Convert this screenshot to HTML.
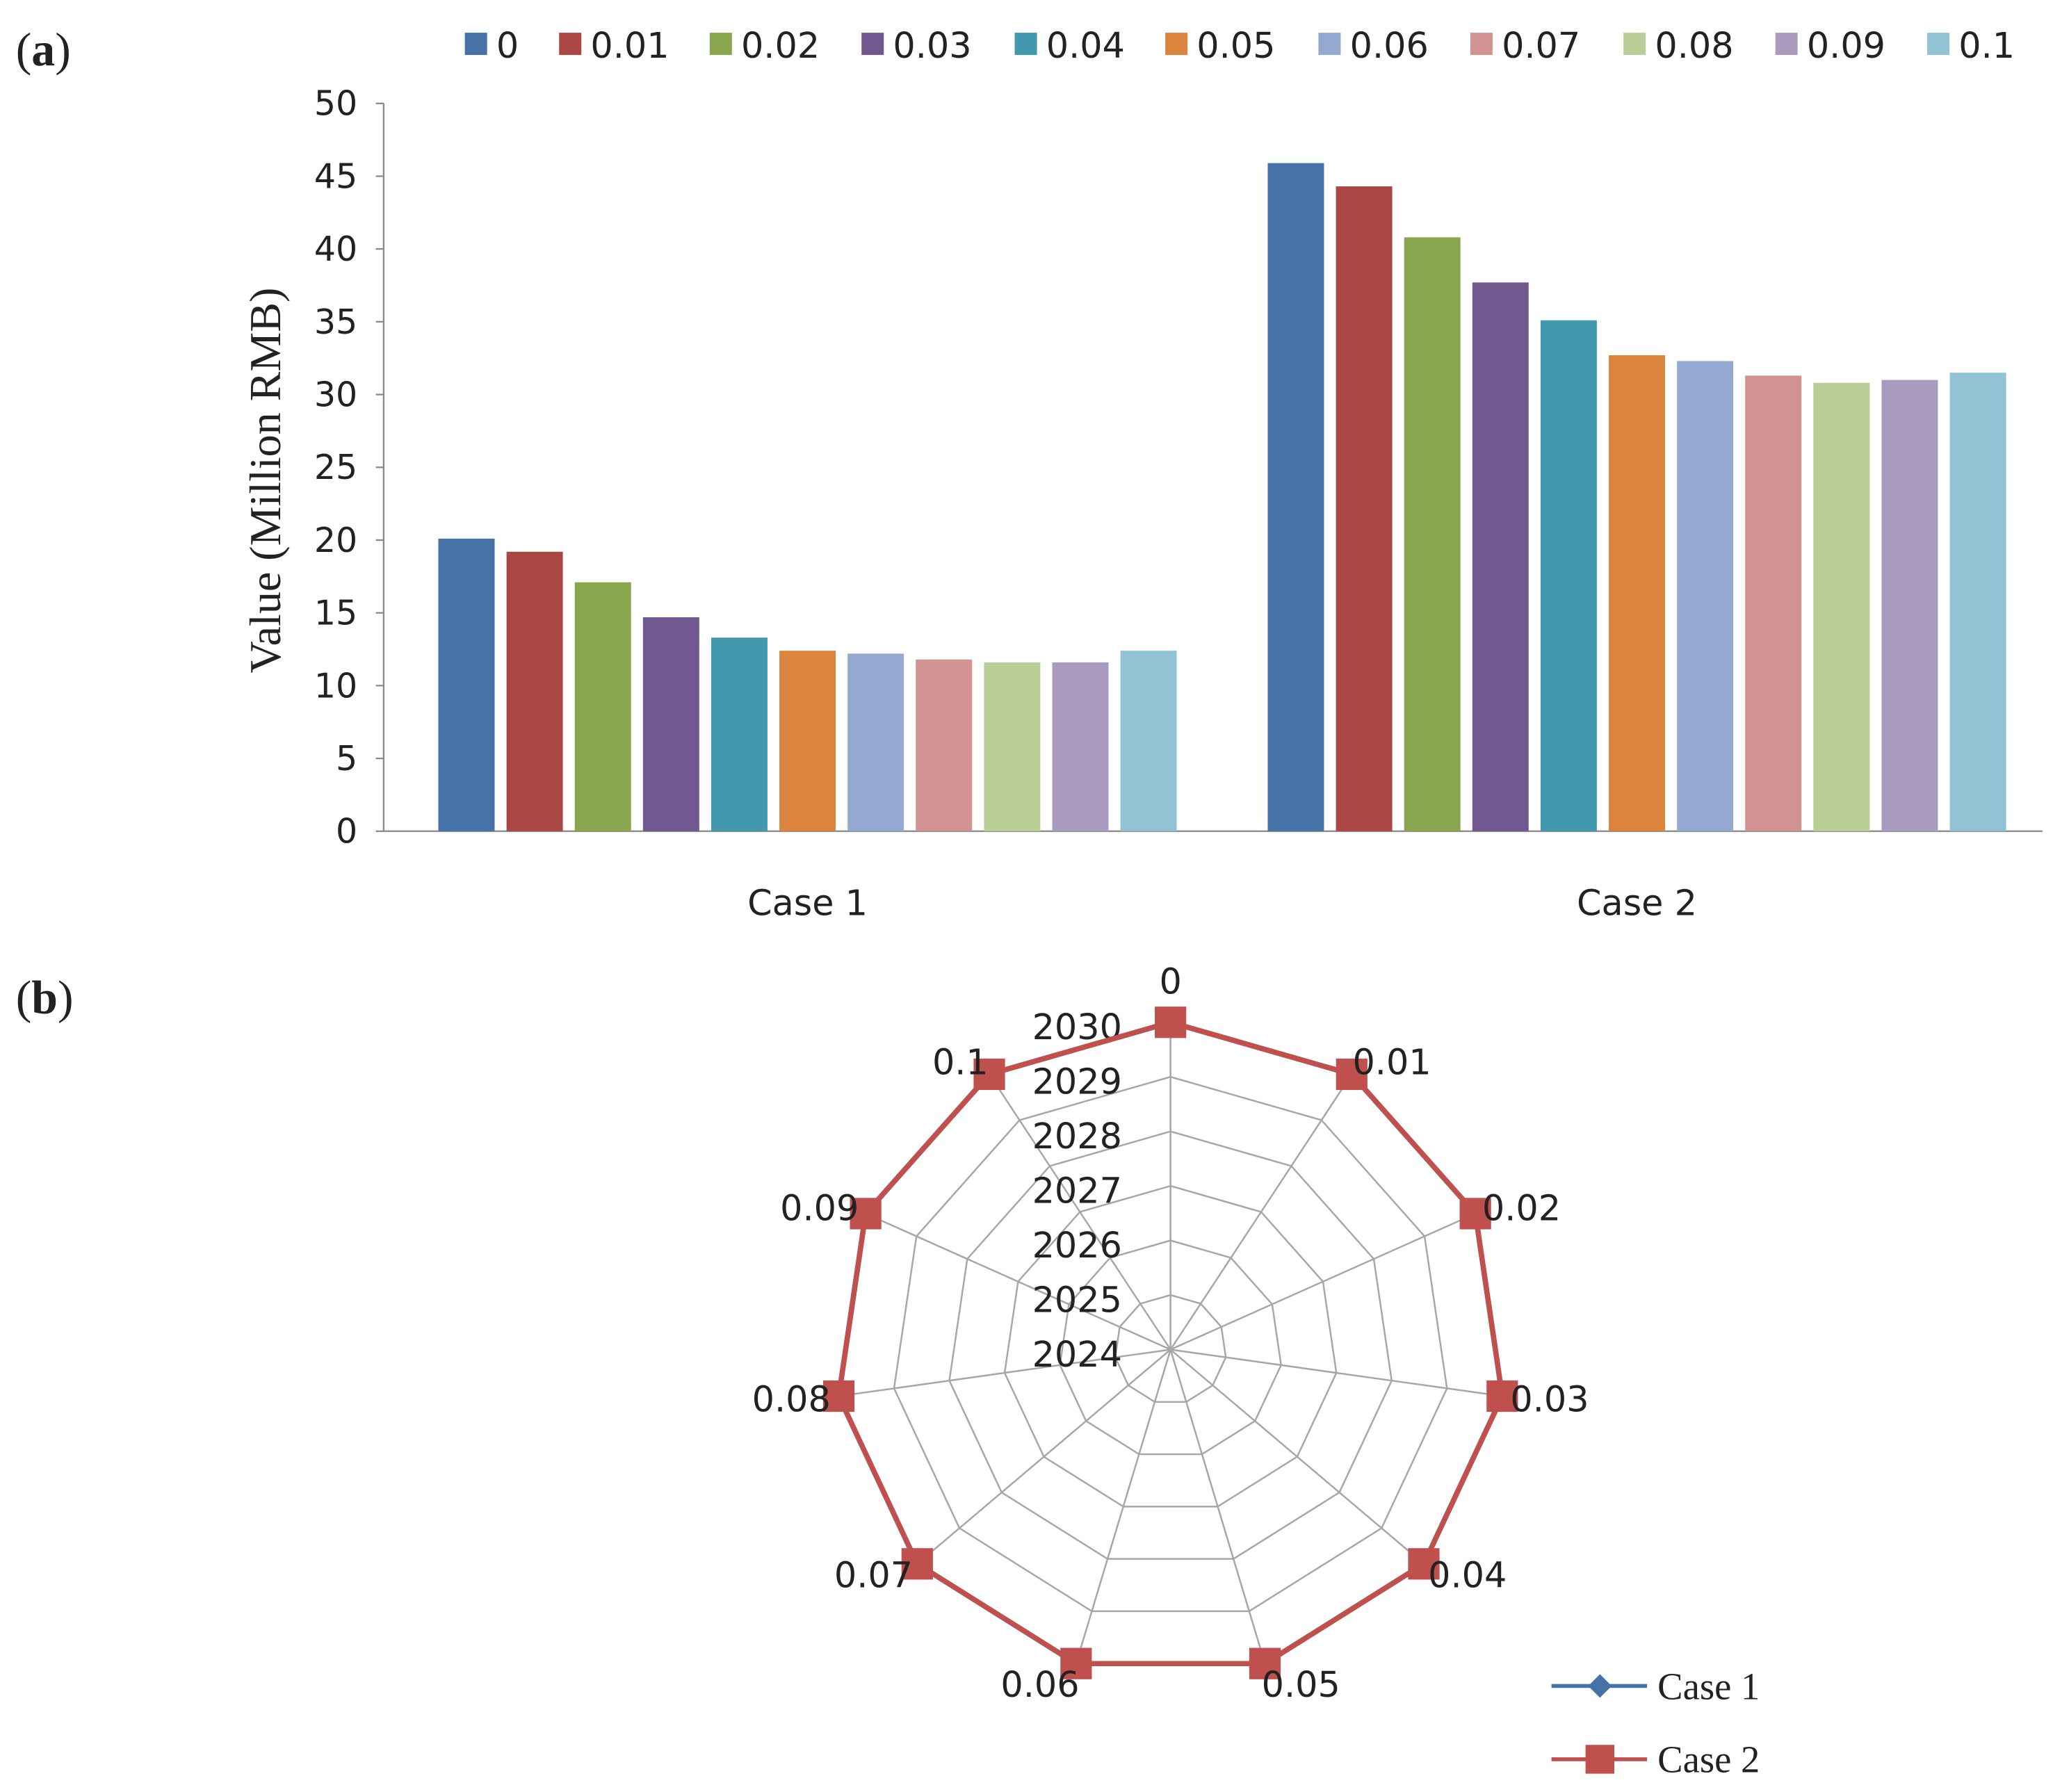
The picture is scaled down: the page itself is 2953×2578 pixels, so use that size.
<!DOCTYPE html>
<html><head><meta charset="utf-8">
<style>
html,body{margin:0;padding:0;background:#fff;}
svg{display:block;}
text{font-family:"DejaVu Sans","Liberation Sans",sans-serif;fill:#222;}
.serif{font-family:"Liberation Serif",serif;}
</style></head>
<body>
<svg id="chart" width="2953" height="2578" viewBox="0 0 1568 1369" xmlns="http://www.w3.org/2000/svg">
<text class="serif" x="12" y="50" font-size="36">(<tspan font-weight="bold">a</tspan>)</text>
<text class="serif" x="12" y="774" font-size="36">(<tspan font-weight="bold">b</tspan>)</text>
<g id="bars"></g>
<g id="radar"></g>
</svg>
<script>
const seriesNames = ["0","0.01","0.02","0.03","0.04","0.05","0.06","0.07","0.08","0.09","0.1"];
const categories = ["Case 1","Case 2"];
const case1Values = [20.1,19.2,17.1,14.7,13.3,12.4,12.2,11.8,11.6,11.6,12.4];
const case2Values = [45.9,44.3,40.8,37.7,35.1,32.7,32.3,31.3,30.8,31.0,31.5];
const yTicks = [0,5,10,15,20,25,30,35,40,45,50];
const radarAxes = ["0","0.01","0.02","0.03","0.04","0.05","0.06","0.07","0.08","0.09","0.1"];
const radarRingLabels = [2024,2025,2026,2027,2028,2029,2030];
const radarCase1 = [2030,2030,2030,2030,2030,2030,2030,2030,2030,2030,2030];
const radarCase2 = [2030,2030,2030,2030,2030,2030,2030,2030,2030,2030,2030];
const colors = ["#4572A7","#AA4643","#89A54E","#71588F","#4198AF","#DB843D","#93A9CF","#D19392","#B9CD96","#A99BBD","#92C3D4"];
const NS="http://www.w3.org/2000/svg";
function mk(parent,tag,attrs,txt){const e=document.createElementNS(NS,tag);for(const k in attrs)e.setAttribute(k,attrs[k]);if(txt!==undefined)e.textContent=txt;parent.appendChild(e);return e;}

// ---- bar chart
const bars=document.getElementById('bars');
const X0=293,X1=1560,Y0=635,Y1=79,YMAX=50;
const y=v=>Y0-(v/YMAX)*(Y0-Y1);
const catW=(X1-X0)/categories.length;
const step=52.1, bw=43;
const groupW=(seriesNames.length-1)*step+bw;
let ax=mk(bars,'line',{x1:X0,y1:Y1,x2:X0,y2:Y0,stroke:'#888','stroke-width':1.2});


ax=mk(bars,'line',{x1:X0,y1:Y0,x2:X1,y2:Y0,stroke:'#888','stroke-width':1.2});


yTicks.forEach(t=>{
  const tk=mk(bars,'line',{x1:X0-6,y1:y(t),x2:X0,y2:y(t),stroke:'#888','stroke-width':1.2});
  
  
  const lb=mk(bars,'text',{x:X0-20,y:y(t)+9,'font-size':26,'text-anchor':'end'},t);
  
  
});
const yt=mk(bars,'text',{x:0,y:0,'font-size':34,'text-anchor':'middle',class:'serif',transform:`translate(214,${(Y0+Y1)/2+10}) rotate(-90)`},'Value (Million RMB)');


const data=[case1Values,case2Values];
categories.forEach((c,ci)=>{
  const cx=X0+catW*(ci+0.5);
  const gx=cx-groupW/2+7;
  data[ci].forEach((v,si)=>{
    const r=mk(bars,'rect',{x:gx+si*step,y:y(v),width:bw,height:Y0-y(v),fill:colors[si]});
    
    
  });
  const cl=mk(bars,'text',{x:cx+7,y:699,'font-size':27,'text-anchor':'middle'},c);
  
  
});
const legendX=[355,427,542,658,775,890,1007,1123,1240,1356,1472];
seriesNames.forEach((n,i)=>{
  const g=mk(bars,'g',{});
  
  
  mk(g,'rect',{x:legendX[i],y:25,width:17,height:17,fill:colors[i]});
  mk(g,'text',{x:legendX[i]+24,y:44,'font-size':27},n);
});

// ---- radar
const rad=document.getElementById('radar');
const CX=894,CY=1031,R=250,XS=1.024;
const rmin=radarRingLabels[0],rmax=radarRingLabels[radarRingLabels.length-1];
const rr=v=>(v-rmin)/(rmax-rmin)*R;
const N=radarAxes.length;
const pt=(i,r)=>{const a=i*2*Math.PI/N;return [CX+XS*r*Math.sin(a),CY-r*Math.cos(a)];};
radarRingLabels.forEach(v=>{
  if(v===rmin)return;
  const pts=radarAxes.map((_,i)=>pt(i,rr(v)).join(',')).join(' ');
  const p=mk(rad,'polygon',{points:pts,fill:'none',stroke:'#a6a6a6','stroke-width':1.3});
  
  
});
radarAxes.forEach((a,i)=>{
  const [ex,ey]=pt(i,R);
  const l=mk(rad,'line',{x1:CX,y1:CY,x2:ex,y2:ey,stroke:'#a6a6a6','stroke-width':1.3});
  
  
});
radarRingLabels.forEach(v=>{
  const t=mk(rad,'text',{x:CX-37,y:CY-rr(v)+13,'font-size':27,'text-anchor':'end'},v);
  
  
});
function series(vals,color,marker,name){
  const g=mk(rad,'g',{});
  
  
  const pts=vals.map((v,i)=>pt(i,rr(v)).join(',')).join(' ');
  mk(g,'polygon',{points:pts,fill:'none',stroke:color,'stroke-width':4});
  vals.forEach((v,i)=>{
    const [px,py]=pt(i,rr(v));
    if(marker==='square') mk(g,'rect',{x:px-12,y:py-12,width:24,height:24,fill:color});
    else mk(g,'polygon',{points:`${px},${py-9} ${px+9},${py} ${px},${py+9} ${px-9},${py}`,fill:color});
  });
}
series(radarCase1,'#4572A7','diamond','radar-series-case-1');
series(radarCase2,'#C0504D','square','radar-series-case-2');
radarAxes.forEach((a,i)=>{
  const [px,py]=pt(i,R+12);
  const ang=i*2*Math.PI/N;
  const s=Math.sin(ang),c=Math.cos(ang);
  let anchor='middle',dx=0,dy=0;
  if(i===0){dy=-10;}
  else if(s>0.2){anchor='start';dx=-6;dy=10;}
  else if(s<-0.2){anchor='end';dx=6;dy=10;}
  if(c<-0.8){dy=14;}
  const t=mk(rad,'text',{x:px+dx,y:py+dy,'font-size':27,'text-anchor':anchor},a);
  
  
});
const lg1=mk(rad,'g',{});


mk(lg1,'line',{x1:1185,y1:1288,x2:1258,y2:1288,stroke:'#4572A7','stroke-width':3});
mk(lg1,'polygon',{points:'1222,1279 1231,1288 1222,1297 1213,1288',fill:'#4572A7'});
mk(lg1,'text',{x:1266,y:1298,'font-size':29,class:'serif'},'Case 1');
const lg2=mk(rad,'g',{});


mk(lg2,'line',{x1:1185,y1:1344,x2:1258,y2:1344,stroke:'#C0504D','stroke-width':3});
mk(lg2,'rect',{x:1211,y:1333,width:22,height:22,fill:'#C0504D'});
mk(lg2,'text',{x:1266,y:1354,'font-size':29,class:'serif'},'Case 2');
</script>
</body></html>
